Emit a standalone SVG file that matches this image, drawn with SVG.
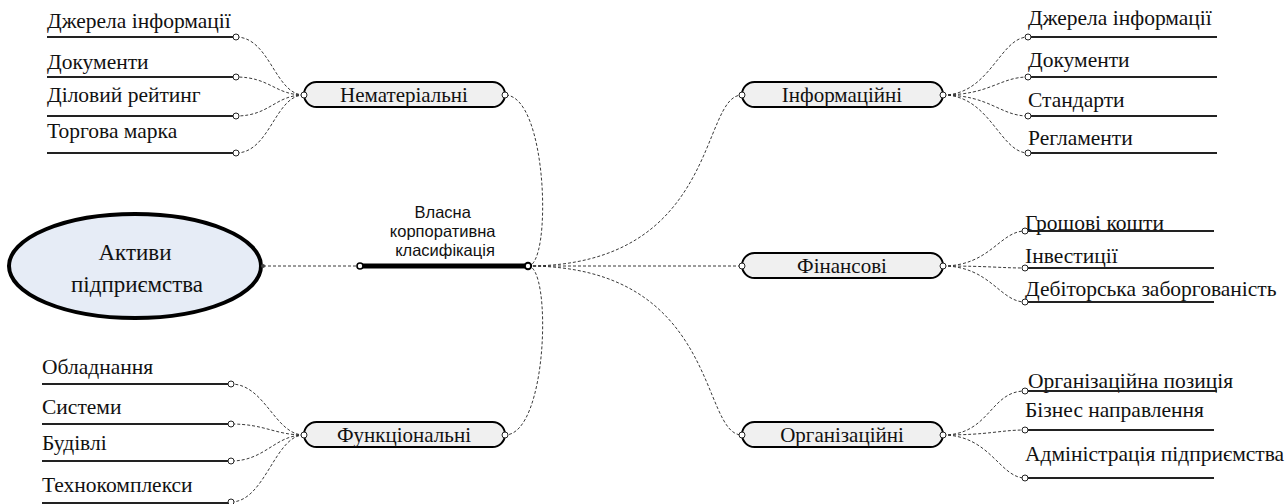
<svg xmlns="http://www.w3.org/2000/svg" width="1285" height="504" viewBox="0 0 1285 504">
<style>
.bg{fill:#fff}
.serif{font-family:"Liberation Serif","Times New Roman",Times,"DejaVu Serif",serif}
.leaf{font-size:21.5px;fill:#111}
.ul{stroke:#222;stroke-width:1.8;fill:none}
.pill{fill:#f0f0f0;stroke:#000;stroke-width:2}
.ptxt{font-size:21px;fill:#111;text-anchor:middle}
.rtxt{font-size:23px;fill:#111;text-anchor:middle}
.htxt{font-family:"Liberation Sans",Arial,sans-serif;font-size:16.5px;fill:#111;text-anchor:middle}
.dash{fill:none;stroke:#222;stroke-width:0.9;stroke-dasharray:3,2}
.pt{fill:#fff;stroke:#222;stroke-width:1}
.pt2{fill:#fff;stroke:#000;stroke-width:1.6}
</style>
<rect class="bg" x="0" y="0" width="1285" height="504"/>

<g id="connectors">
  <line class="dash" x1="263" y1="266" x2="360" y2="266"/>
  <path class="dash" d="M528,266 C552,266 548,95 505,95"/>
  <path class="dash" d="M528,266 C552,266 548,435 505,435"/>
  <path class="dash" d="M528,266 C720,266 700,95 742,95"/>
  <line class="dash" x1="528" y1="266" x2="742" y2="266"/>
  <path class="dash" d="M528,266 C720,266 700,435 742,435"/>
  <path class="dash" d="M304,95 C275,95 270,37 236,37"/>
  <path class="dash" d="M304,95 C275,95 270,77 236,77"/>
  <path class="dash" d="M304,95 C275,95 270,116 236,116"/>
  <path class="dash" d="M304,95 C275,95 270,153 236,153"/>
  <path class="dash" d="M304,435 C275,435 265,384 231,384"/>
  <path class="dash" d="M304,435 C275,435 265,424 231,424"/>
  <path class="dash" d="M304,435 C275,435 265,461 231,461"/>
  <path class="dash" d="M304,435 C275,435 265,502 231,502"/>
  <path class="dash" d="M943,95 C990,95 1000,37 1028,37"/>
  <path class="dash" d="M943,95 C990,95 1000,77 1028,77"/>
  <path class="dash" d="M943,95 C990,95 1000,116 1028,116"/>
  <path class="dash" d="M943,95 C990,95 1000,153 1028,153"/>
  <path class="dash" d="M943,266 C990,266 1000,231 1025,231"/>
  <path class="dash" d="M943,266 C990,266 1000,268 1025,268"/>
  <path class="dash" d="M943,266 C990,266 1000,302 1025,302"/>
  <path class="dash" d="M943,435 C990,435 990,391 1025,391"/>
  <path class="dash" d="M943,435 C990,435 1000,430 1025,430"/>
  <path class="dash" d="M943,435 C990,435 1000,478 1025,478"/>
</g>

<g id="root">
  <ellipse cx="135" cy="266" rx="126" ry="52" fill="#e6ecf6" stroke="#000" stroke-width="4"/>
  <text class="serif rtxt" x="135" y="260">Активи</text>
  <text class="serif rtxt" x="137" y="292">підприємства</text>
  <circle cx="263" cy="266" r="2" fill="#444"/>
</g>

<g id="hub">
  <line x1="360" y1="266" x2="528" y2="266" stroke="#000" stroke-width="5"/>
  <circle class="pt2" cx="360" cy="266" r="3"/>
  <circle cx="528" cy="266" r="3.2" fill="#fff" stroke="#000" stroke-width="2"/>
  <text class="htxt">
    <tspan x="445" y="218">Власна</tspan>
    <tspan x="445" y="237">корпоративна</tspan>
    <tspan x="445" y="256">класифікація</tspan>
  </text>
</g>

<g id="n-nemat">
  <rect class="pill" x="304" y="82" width="201" height="25" rx="12.5"/>
  <text class="serif ptxt" x="404" y="102">Нематеріальні</text>
  <circle class="pt" cx="304" cy="95" r="3"/>
  <circle class="pt" cx="505" cy="95" r="3"/>
</g>
<g id="n-func">
  <rect class="pill" x="304" y="422" width="201" height="25" rx="12.5"/>
  <text class="serif ptxt" x="404" y="442">Функціональні</text>
  <circle class="pt" cx="304" cy="435" r="3"/>
  <circle class="pt" cx="505" cy="435" r="3"/>
</g>
<g id="n-inf">
  <rect class="pill" x="742" y="82" width="201" height="25" rx="12.5"/>
  <text class="serif ptxt" x="842" y="102">Інформаційні</text>
  <circle class="pt" cx="742" cy="95" r="3"/>
  <circle class="pt" cx="943" cy="95" r="3"/>
</g>
<g id="n-fin">
  <rect class="pill" x="742" y="253" width="201" height="25" rx="12.5"/>
  <text class="serif ptxt" x="842" y="273">Фінансові</text>
  <circle class="pt" cx="742" cy="266" r="3"/>
  <circle class="pt" cx="943" cy="266" r="3"/>
</g>
<g id="n-org">
  <rect class="pill" x="742" y="422" width="201" height="25" rx="12.5"/>
  <text class="serif ptxt" x="842" y="442">Організаційні</text>
  <circle class="pt" cx="742" cy="435" r="3"/>
  <circle class="pt" cx="943" cy="435" r="3"/>
</g>

<g id="l-n1"><text class="serif leaf" x="47" y="28">Джерела інформації</text><line class="ul" x1="47" y1="37" x2="236" y2="37"/><circle class="pt" cx="236" cy="37" r="3"/></g>
<g id="l-n2"><text class="serif leaf" x="47" y="69">Документи</text><line class="ul" x1="47" y1="77" x2="236" y2="77"/><circle class="pt" cx="236" cy="77" r="3"/></g>
<g id="l-n3"><text class="serif leaf" x="47" y="102">Діловий рейтинг</text><line class="ul" x1="47" y1="116" x2="236" y2="116"/><circle class="pt" cx="236" cy="116" r="3"/></g>
<g id="l-n4"><text class="serif leaf" x="47" y="138">Торгова марка</text><line class="ul" x1="47" y1="153" x2="236" y2="153"/><circle class="pt" cx="236" cy="153" r="3"/></g>

<g id="l-f1"><text class="serif leaf" x="42" y="374">Обладнання</text><line class="ul" x1="42" y1="384" x2="231" y2="384"/><circle class="pt" cx="231" cy="384" r="3"/></g>
<g id="l-f2"><text class="serif leaf" x="42" y="414">Системи</text><line class="ul" x1="42" y1="424" x2="231" y2="424"/><circle class="pt" cx="231" cy="424" r="3"/></g>
<g id="l-f3"><text class="serif leaf" x="42" y="450">Будівлі</text><line class="ul" x1="42" y1="461" x2="231" y2="461"/><circle class="pt" cx="231" cy="461" r="3"/></g>
<g id="l-f4"><text class="serif leaf" x="42" y="492">Технокомплекси</text><line class="ul" x1="42" y1="503" x2="231" y2="503"/><circle class="pt" cx="231" cy="502" r="3"/></g>

<g id="l-i1"><text class="serif leaf" x="1028" y="25">Джерела інформації</text><line class="ul" x1="1028" y1="37" x2="1217" y2="37"/><circle class="pt" cx="1028" cy="37" r="3"/></g>
<g id="l-i2"><text class="serif leaf" x="1028" y="67">Документи</text><line class="ul" x1="1028" y1="77" x2="1217" y2="77"/><circle class="pt" cx="1028" cy="77" r="3"/></g>
<g id="l-i3"><text class="serif leaf" x="1028" y="107">Стандарти</text><line class="ul" x1="1028" y1="116" x2="1217" y2="116"/><circle class="pt" cx="1028" cy="116" r="3"/></g>
<g id="l-i4"><text class="serif leaf" x="1028" y="145">Регламенти</text><line class="ul" x1="1028" y1="153" x2="1217" y2="153"/><circle class="pt" cx="1028" cy="153" r="3"/></g>

<g id="l-fi1"><text class="serif leaf" x="1025" y="230">Грошові кошти</text><line class="ul" x1="1025" y1="231" x2="1214" y2="231"/><circle class="pt" cx="1025" cy="231" r="3"/></g>
<g id="l-fi2"><text class="serif leaf" x="1025" y="263">Інвестиції</text><line class="ul" x1="1025" y1="268" x2="1214" y2="268"/><circle class="pt" cx="1025" cy="268" r="3"/></g>
<g id="l-fi3"><text class="serif leaf" x="1025" y="296">Дебіторська заборгованість</text><line class="ul" x1="1025" y1="302" x2="1214" y2="302"/><circle class="pt" cx="1025" cy="302" r="3"/></g>

<g id="l-o1"><text class="serif leaf" x="1028" y="388">Організаційна позиція</text><line class="ul" x1="1025" y1="391" x2="1217" y2="391"/><circle class="pt" cx="1025" cy="391" r="3"/></g>
<g id="l-o2"><text class="serif leaf" x="1025" y="417">Бізнес направлення</text><line class="ul" x1="1025" y1="430" x2="1214" y2="430"/><circle class="pt" cx="1025" cy="430" r="3"/></g>
<g id="l-o3"><text class="serif leaf" x="1025" y="461">Адміністрація підприємства</text><line class="ul" x1="1025" y1="478" x2="1214" y2="478"/><circle class="pt" cx="1025" cy="478" r="3"/></g>
</svg>
